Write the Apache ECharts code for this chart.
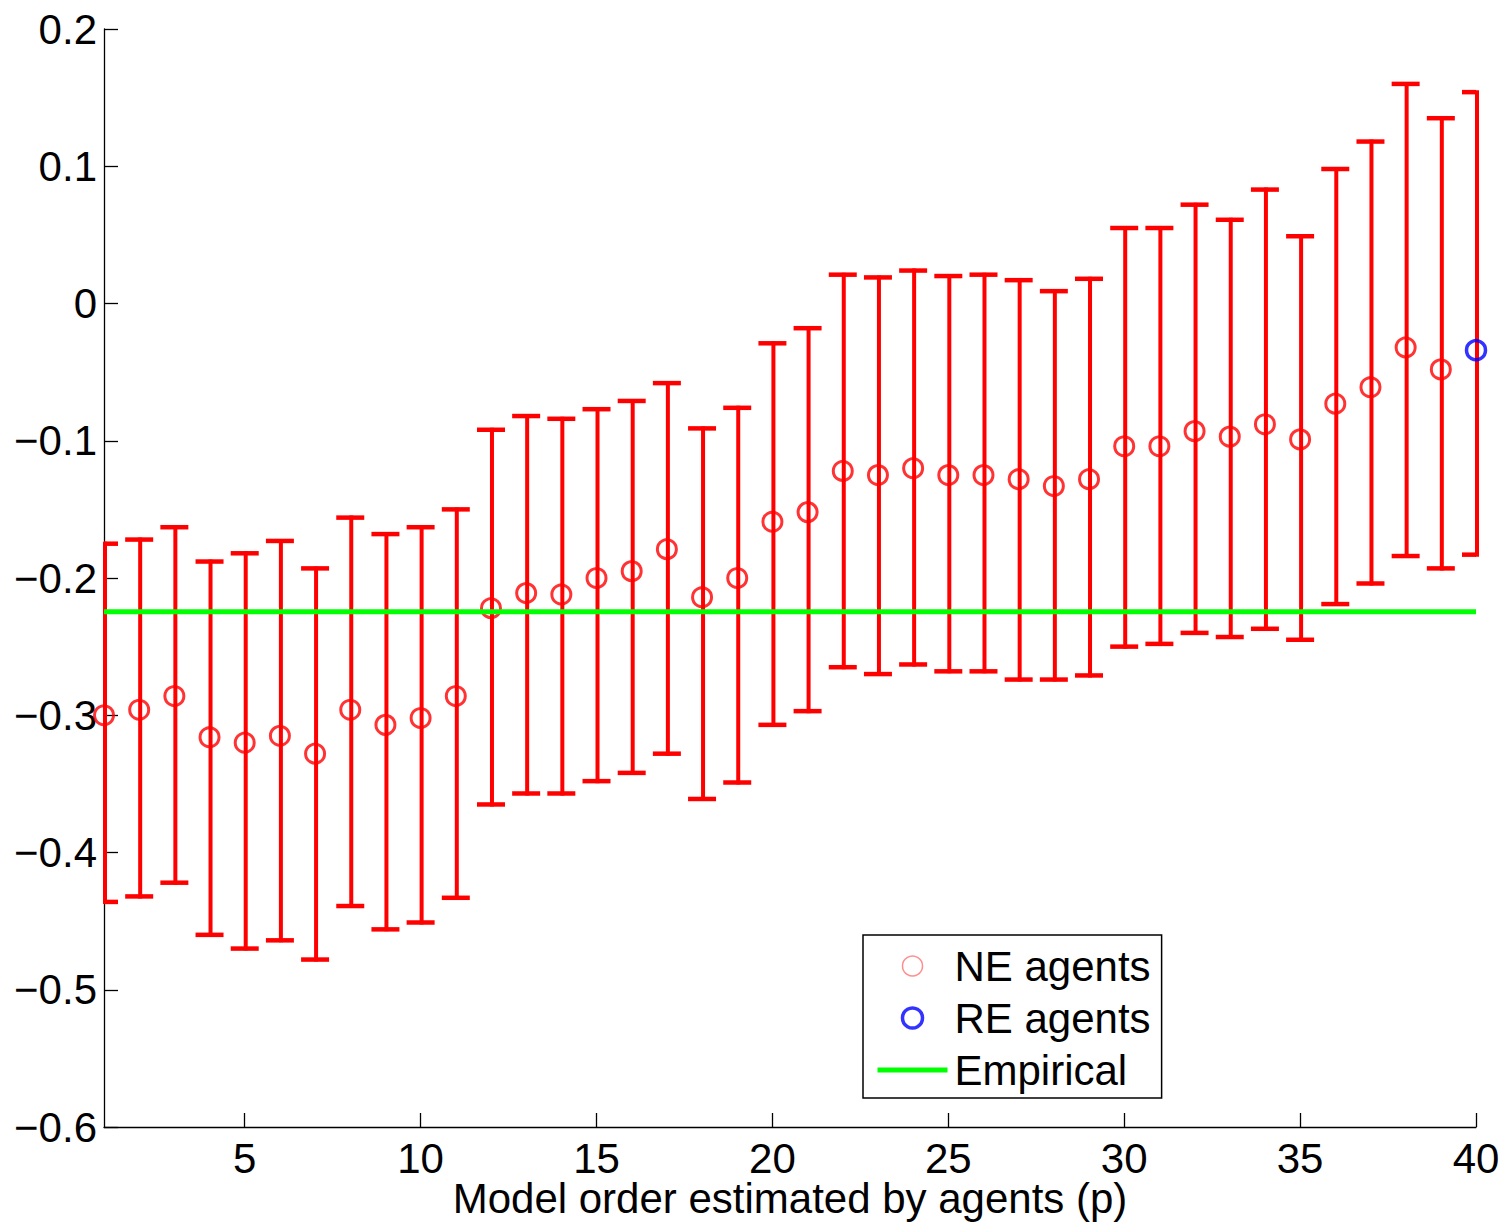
<!DOCTYPE html>
<html>
<head>
<meta charset="utf-8">
<script src="https://cdn.jsdelivr.net/npm/echarts@6/dist/echarts.min.js"></script>
<style>
html,body{margin:0;padding:0;background:#fff;}
#chart{width:1501px;height:1223px;}
</style>
</head>
<body>
<div id="chart"></div>
<script>
// ---- Data ----
const orders = [1,2,3,4,5,6,7,8,9,10,11,12,13,14,15,16,17,18,19,20,21,22,23,24,25,26,27,28,29,30,31,32,33,34,35,36,37,38,39,40];
const neMean = [-0.300,-0.296,-0.286,-0.316,-0.320,-0.315,-0.328,-0.296,-0.307,-0.302,-0.286,-0.222,-0.211,-0.212,-0.200,-0.195,-0.179,-0.214,-0.200,-0.159,-0.152,-0.122,-0.125,-0.120,-0.125,-0.125,-0.128,-0.133,-0.128,-0.104,-0.104,-0.093,-0.097,-0.088,-0.099,-0.073,-0.061,-0.032,-0.048];
const barLower = [-0.436,-0.432,-0.422,-0.460,-0.470,-0.464,-0.478,-0.439,-0.456,-0.451,-0.433,-0.365,-0.357,-0.357,-0.348,-0.342,-0.328,-0.361,-0.349,-0.307,-0.297,-0.265,-0.270,-0.263,-0.268,-0.268,-0.274,-0.274,-0.271,-0.250,-0.248,-0.240,-0.243,-0.237,-0.245,-0.219,-0.204,-0.184,-0.193,-0.183];
const barUpper = [-0.175,-0.172,-0.163,-0.188,-0.182,-0.173,-0.193,-0.156,-0.168,-0.163,-0.150,-0.092,-0.082,-0.084,-0.077,-0.071,-0.058,-0.091,-0.076,-0.029,-0.018,0.021,0.019,0.024,0.020,0.021,0.017,0.009,0.018,0.055,0.055,0.072,0.061,0.083,0.049,0.098,0.118,0.160,0.135,0.154];
const reOrder = 40;
const reMean = -0.034;
const empirical = -0.2245;
const xTicks = [5,10,15,20,25,30,35,40];
const yMin = -0.6, yMax = 0.2, yStep = 0.1;
const xName = 'Model order estimated by agents (p)';
const seriesNames = ['NE agents','RE agents','Empirical'];

// ---- Build series data ----
const barData = orders.map((x,i)=>[x, barLower[i], barUpper[i]]);
const neData = neMean.map((v,i)=>[orders[i], v]);
const reData = [[reOrder, reMean]];
const empData = [[orders[0], empirical],[orders[orders.length-1], empirical]];

const FONT = '"Liberation Sans", Arial, sans-serif';
const RED = '#ff0000';
const GREEN = '#00ff00';
const BLUE = '#0000ff';

const chart = echarts.init(document.getElementById('chart'), null, {renderer:'svg'});

function fmtY(v){
  const r = Math.round(v*10)/10;
  if (Math.abs(r) < 1e-9) return '0';
  return r.toFixed(1).replace('-', '\u2212');
}

const option = {
  backgroundColor:'#fff',
  animation:false,
  grid:{left:104, right:25, top:29, bottom:96, containLabel:false, outerBoundsMode:'none'},
  xAxis:{
    type:'value', min:1, max:40,
    name:xName, nameLocation:'middle', nameGap:53, nameMoveOverlap:false,
    nameTextStyle:{fontFamily:FONT, fontSize:42, lineHeight:36, color:'#000'},
    axisLine:{show:true, onZero:false, lineStyle:{color:'#000', width:1.3}},
    axisTick:{show:true, inside:true, length:14, customValues:xTicks, lineStyle:{color:'#000', width:1.3}},
    axisLabel:{show:true, customValues:xTicks, margin:13, fontFamily:FONT, fontSize:42, lineHeight:36, color:'#000'},
    splitLine:{show:false}
  },
  yAxis:{
    type:'value', min:yMin, max:yMax, interval:yStep,
    axisLine:{show:true, onZero:false, lineStyle:{color:'#000', width:1.3}},
    axisTick:{show:true, inside:true, length:14, lineStyle:{color:'#000', width:1.3}},
    axisLabel:{show:true, margin:7, fontFamily:FONT, fontSize:42, color:'#000', formatter:fmtY},
    splitLine:{show:false}
  },
  legend:{
    orient:'vertical', left:863, top:935,
    padding:[9,11,6,12], itemGap:8, itemWidth:70, itemHeight:20,
    symbolKeepAspect:true,
    borderColor:'#000', borderWidth:1.5, backgroundColor:'#fff',
    textStyle:{fontFamily:FONT, fontSize:42, color:'#000', lineHeight:44, padding:[0,0,0,2]},
    data:[
      {name:seriesNames[0], icon:'circle', itemStyle:{color:'rgba(0,0,0,0)', borderColor:'#ff7070', borderWidth:1.5}},
      {name:seriesNames[1], icon:'circle', itemStyle:{color:'rgba(0,0,0,0)', borderColor:BLUE, borderWidth:3.5}},
      {name:seriesNames[2], itemStyle:{color:'rgba(0,0,0,0)', borderColor:'rgba(0,0,0,0)', borderWidth:0}, lineStyle:{color:GREEN, width:5}}
    ]
  },
  series:[
    {
      name:'errorbars', type:'custom', z:2, silent:true,
      data:barData,
      encode:{x:0, y:[1,2]},
      renderItem:function(params, api){
        const x = api.value(0), lo = api.value(1), hi = api.value(2);
        const pHi = api.coord([x, hi]);
        const pLo = api.coord([x, lo]);
        const cs = params.coordSys;
        const half = 14;
        const l = Math.max(pHi[0]-half, cs.x);
        const r = Math.min(pHi[0]+half, cs.x+cs.width);
        const cx = pHi[0] + 1;
        return {type:'group', children:[
          {type:'line', shape:{x1:cx, y1:pHi[1]-2, x2:cx, y2:pLo[1]+2}, style:{stroke:RED, lineWidth:4}},
          {type:'line', shape:{x1:l, y1:pHi[1], x2:r, y2:pHi[1]}, style:{stroke:RED, lineWidth:4.5}},
          {type:'line', shape:{x1:l, y1:pLo[1], x2:r, y2:pLo[1]}, style:{stroke:RED, lineWidth:4.5}}
        ]};
      }
    },
    {
      name:seriesNames[0], type:'scatter', z:3, clip:false,
      data:neData, symbol:'circle', symbolSize:19,
      itemStyle:{color:'rgba(0,0,0,0)', borderColor:RED, borderWidth:3}
    },
    {
      name:seriesNames[1], type:'scatter', z:5, clip:false,
      data:reData, symbol:'circle', symbolSize:19,
      itemStyle:{color:'rgba(0,0,0,0)', borderColor:BLUE, borderWidth:3.5}
    },
    {
      name:seriesNames[2], type:'line', z:4,
      data:empData, symbol:'none', showSymbol:false,
      lineStyle:{color:GREEN, width:5},
      itemStyle:{color:GREEN}
    }
  ]
};
chart.setOption(option);
</script>
</body>
</html>
